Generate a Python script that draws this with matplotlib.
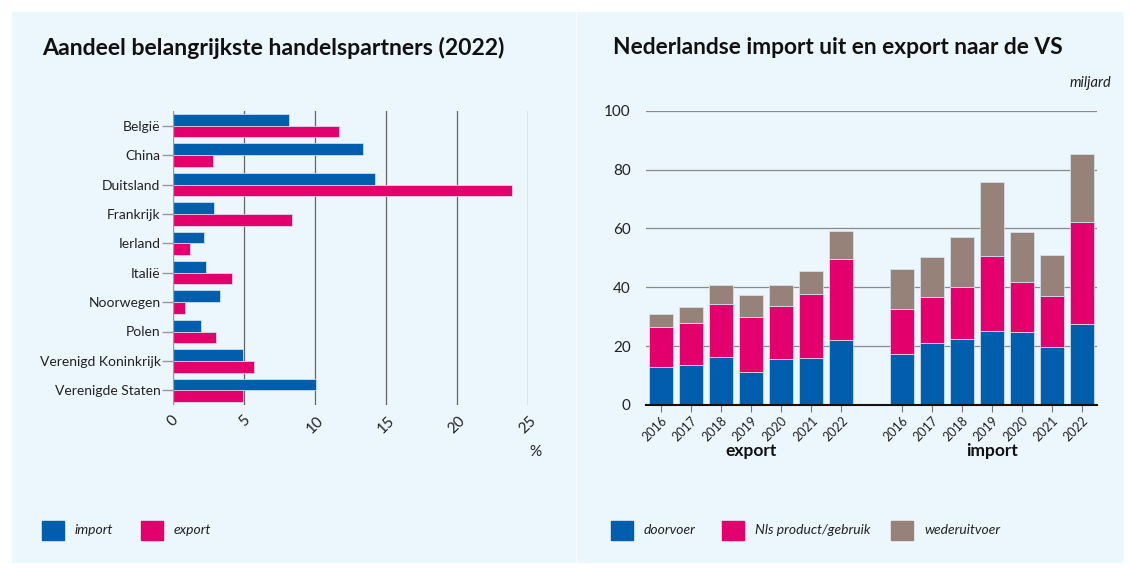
import numpy as np
import matplotlib.pyplot as plt
from matplotlib.patches import Rectangle

plt.rcParams['font.family'] = ['Lato', 'DejaVu Sans']

# Left chart: share of main trading partners (2022), %
partners = ['België', 'China', 'Duitsland', 'Frankrijk', 'Ierland', 'Italië',
            'Noorwegen', 'Polen', 'Verenigd Koninkrijk', 'Verenigde Staten']
share_import = [8.2, 13.4, 14.2, 2.9, 2.2, 2.3, 3.3, 2.0, 4.9, 10.1]
share_export = [11.7, 2.8, 23.9, 8.35, 1.2, 4.15, 0.85, 3.05, 5.7, 4.9]

# Right chart: Dutch import from / export to the US, billion
years = ['2016', '2017', '2018', '2019', '2020', '2021', '2022']
exp_doorvoer = [13.0, 13.5, 16.4, 11.1, 15.8, 16.1, 22.2]
exp_nls = [13.4, 14.3, 17.9, 18.8, 17.9, 21.7, 27.3]
exp_wederuitvoer = [4.5, 5.5, 6.4, 7.5, 7.0, 7.6, 9.5]
imp_doorvoer = [17.4, 21.0, 22.3, 25.1, 24.9, 19.8, 27.6]
imp_nls = [15.3, 15.8, 17.7, 25.5, 16.8, 17.2, 34.7]
imp_wederuitvoer = [13.6, 13.5, 17.1, 25.2, 17.1, 14.1, 23.1]

BLUE = '#005EAD'
PINK = '#E3006C'
GREY = '#968279'
BG = '#ECF6FD'

W, H = 1132, 571
fig = plt.figure(figsize=(W / 100, H / 100), dpi=100, facecolor='white')


def fx(px):
    return px / W


def fy(py):
    return 1 - py / H


# panel backgrounds
fig.patches.append(Rectangle((fx(12), fy(562)), fx(563), 550 / H,
                             transform=fig.transFigure, color=BG, zorder=-10))
fig.patches.append(Rectangle((fx(577), fy(562)), fx(545), 550 / H,
                             transform=fig.transFigure, color=BG, zorder=-10))

# ---------- left chart ----------
ax1 = fig.add_axes([fx(173), fy(405), fx(355), 294 / H])
ax1.set_facecolor('none')
y = np.arange(len(partners))
h = 0.4
ax1.barh(y - h / 2, share_import, height=h, color=BLUE, edgecolor='#d8e8f6', linewidth=0.5, zorder=3)
ax1.barh(y + h / 2, share_export, height=h, color=PINK, edgecolor='#d8e8f6', linewidth=0.5, zorder=3)
ax1.set_xlim(0, 25)
ax1.set_ylim(9.5, -0.5)
ax1.set_yticks(y)
ax1.set_yticklabels(partners, fontsize=10, color='#222222')
ax1.tick_params(axis='y', length=8, color='#999999', width=1, pad=1)
ax1.set_xticks([0, 5, 10, 15, 20, 25])
ax1.set_xticklabels(['0', '5', '10', '15', '20', '25'], rotation=45, fontsize=11,
                    color='#222222', ha='center')
ax1.tick_params(axis='x', length=0, pad=6)
for v in [5, 10, 15, 20, 25]:
    ax1.axvline(v, color='#666666', linewidth=0.9, zorder=1)
ax1.axvline(0, color='#999999', linewidth=1, zorder=4)
for s in ax1.spines.values():
    s.set_visible(False)
fig.text(fx(535), fy(452), '%', fontsize=11, color='#222222', ha='center', va='center')
fig.text(fx(42), fy(48), 'Aandeel belangrijkste handelspartners (2022)',
         fontsize=16.6, fontweight='bold', color='#111111', va='center', ha='left')

# ---------- right chart ----------
ax2 = fig.add_axes([fx(646), fy(405), fx(451), 294.3 / H])
ax2.set_facecolor('none')
x_exp = np.arange(len(years))
x_imp = np.arange(len(years)) + len(years) + 1
xs = np.concatenate([x_exp, x_imp])
doorvoer = np.array(exp_doorvoer + imp_doorvoer)
nls = np.array(exp_nls + imp_nls)
weder = np.array(exp_wederuitvoer + imp_wederuitvoer)
bw = 0.8
ax2.bar(xs, doorvoer, width=bw, color=BLUE, edgecolor='#d8e8f6', linewidth=0.5, zorder=3)
ax2.bar(xs, nls, width=bw, bottom=doorvoer, color=PINK, edgecolor='#d8e8f6', linewidth=0.5, zorder=3)
ax2.bar(xs, weder, width=bw, bottom=doorvoer + nls, color=GREY, edgecolor='#d8e8f6', linewidth=0.5, zorder=3)
ax2.set_xlim(-0.5, 14.5)
ax2.set_ylim(0, 100)
ax2.set_yticks([0, 20, 40, 60, 80, 100])
ax2.set_yticklabels(['0', '20', '40', '60', '80', '100'], fontsize=11, color='#222222')
ax2.tick_params(axis='y', length=0, pad=11)
for v in [20, 40, 60, 80, 100]:
    ax2.axhline(v, color='#8a8a8a', linewidth=0.9, zorder=1)
ax2.set_xticks(xs)
ax2.set_xticklabels(years + years, rotation=45, fontsize=9, color='#222222',
                    ha='right', rotation_mode='anchor')
ax2.tick_params(axis='x', length=5, color='#777777', width=0.8, pad=2)
for k in ['top', 'right', 'left']:
    ax2.spines[k].set_visible(False)
ax2.spines['bottom'].set_color('#111111')
ax2.spines['bottom'].set_linewidth(1.5)
ax2.spines['bottom'].set_zorder(5)
ax2.text(np.mean(x_exp), -15.5, 'export', transform=ax2.transData, fontsize=12.5,
         fontweight='bold', ha='center', va='center', color='#111111')
ax2.text(np.mean(x_imp), -15.5, 'import', transform=ax2.transData, fontsize=12.5,
         fontweight='bold', ha='center', va='center', color='#111111')
fig.text(fx(1111), fy(83), 'miljard', fontsize=10.5, style='italic',
         color='#222222', ha='right', va='center')
fig.text(fx(613), fy(48), 'Nederlandse import uit en export naar de VS',
         fontsize=16.4, fontweight='bold', color='#111111', va='center', ha='left')

# ---------- legends ----------
def legend_item(x0, label, color):
    fig.patches.append(Rectangle((fx(x0), fy(540)), fx(22), 19 / H,
                                 transform=fig.transFigure, color=color, zorder=2))
    fig.text(fx(x0 + 33), fy(530), label, fontsize=10, style='italic',
             color='#222222', ha='left', va='center')


legend_item(42, 'import', BLUE)
legend_item(141, 'export', PINK)
legend_item(611, 'doorvoer', BLUE)
legend_item(722, 'Nls product/gebruik', PINK)
legend_item(891, 'wederuitvoer', GREY)

fig.savefig('out.png', dpi=100, facecolor='white')
